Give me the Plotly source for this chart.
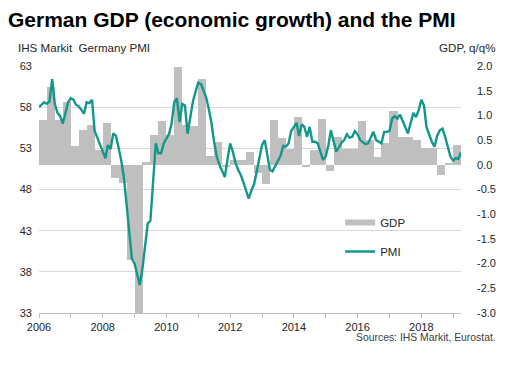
import pandas as pd
import plotly.graph_objects as go

# ---------------- data ----------------
pmi_start = "2006-01-01"   # monthly, Jan 2006 .. Apr 2019
pmi_values = [
    58.0, 58.3, 58.6, 58.4, 58.7, 61.4, 58.4, 57.3, 56.9, 56.0, 57.4, 58.6,   # 2006
    59.1, 58.9, 58.3, 58.1, 57.7, 57.2, 58.6, 58.5, 58.9, 55.1, 54.3, 53.5,   # 2007
    52.5, 51.8, 53.4, 52.9, 54.8, 54.5, 53.1, 51.5, 49.4, 46.2, 42.5, 39.6,   # 2008
    39.0, 37.6, 36.4, 38.4, 41.2, 43.9, 44.2, 48.6, 53.6, 52.4, 52.4, 53.6,   # 2009
    54.2, 54.8, 56.0, 58.6, 59.1, 56.2, 58.4, 58.2, 54.8, 56.5, 58.7, 59.9,   # 2010
    61.0, 60.8, 60.1, 59.2, 57.8, 56.1, 53.8, 52.0, 51.0, 50.3, 49.5, 51.6,   # 2011
    53.6, 52.6, 51.3, 50.4, 49.8, 48.9, 47.9, 46.9, 47.9, 48.6, 50.2, 51.8,   # 2012
    53.4, 54.0, 52.2, 50.4, 50.2, 50.8, 51.4, 52.1, 53.3, 53.2, 53.6, 55.1,   # 2013
    55.6, 56.1, 54.5, 55.9, 55.6, 54.4, 55.6, 53.8, 53.8, 53.6, 52.6, 51.6,   # 2014
    52.0, 53.4, 55.2, 54.0, 52.6, 53.1, 53.7, 54.0, 54.7, 54.3, 54.4, 55.1,   # 2015
    54.7, 54.0, 53.8, 53.5, 53.6, 54.3, 55.0, 54.0, 53.8, 53.6, 55.0, 55.0,   # 2016
    55.1, 56.6, 56.9, 56.6, 57.1, 56.3, 55.6, 54.8, 56.1, 57.3, 56.8, 57.6,   # 2017
    58.9, 58.2, 55.6, 54.6, 53.8, 53.2, 54.5, 55.2, 55.4, 54.4, 53.2, 52.0,   # 2018
    51.5, 51.8, 51.7, 52.5,                                                   # 2019
]

gdp_start = "2006-01-01"   # quarterly, 2006 Q1 .. 2019 Q1 (q/q %)
gdp_values = [
    0.91, 1.58, 0.90, 1.28,     # 2006
    0.38, 0.70, 0.81, 0.29,     # 2007
    0.85, -0.27, -0.36, -1.93,  # 2008
    -4.50, 0.05, 0.60, 0.89,    # 2009
    0.60, 1.97, 0.81, 0.78,     # 2010
    1.73, 0.17, 0.47, -0.05,    # 2011
    0.10, 0.10, 0.25, -0.17,    # 2012
    -0.38, 0.90, 0.54, 0.32,    # 2013
    0.97, -0.05, 0.30, 0.93,    # 2014
    -0.12, 0.56, 0.31, 0.31,    # 2015
    0.89, 0.50, 0.16, 0.45,     # 2016
    1.08, 0.56, 0.56, 0.50,     # 2017
    0.35, 0.35, -0.21, 0.02,    # 2018
    0.40,                       # 2019
]

year_tick_dates = ["2006-01-01", "2008-01-01", "2010-01-01", "2012-01-01",
                   "2014-01-01", "2016-01-01", "2018-01-01"]
year_tick_labels = ["2006", "2008", "2010", "2012", "2014", "2016", "2018"]

pmi_ticks = [33, 38, 43, 48, 53, 58, 63]
gdp_ticks = [-3.0, -2.5, -2.0, -1.5, -1.0, -0.5, 0.0, 0.5, 1.0, 1.5, 2.0]
gdp_tick_labels = ["-3.0", "-2.5", "-2.0", "-1.5", "-1.0", "-0.5",
                   "0.0", "0.5", "1.0", "1.5", "2.0"]

title_text = "German GDP (economic growth) and the PMI"
left_axis_title = "IHS Markit\u00a0 Germany PMI"
right_axis_title = "GDP, q/q%"
source_text = "Sources: IHS Markit, Eurostat."

# ---------------- derived ----------------
pmi_dates = pd.date_range(pmi_start, periods=len(pmi_values), freq="MS")
gdp_dates = pd.date_range(gdp_start, periods=len(gdp_values), freq="QS")

FONT = "Liberation Sans, Arial, sans-serif"
TEXT = "#262626"
GREY_BAR = "#BFBFBF"
TEAL = "#13978A"
GRID = "#D9D9D9"
QUARTER_MS = 92 * 86400000

# page body has an 8px margin, so the figure is offset by (8, 8)
OFF = 8
W, H = 514 - OFF, 365 - OFF
PL, PR, PT, PB = 35, 461, 66, 313          # plot area in page pixels
PW, PH = PR - PL, PB - PT


def px_x(px):
    return (px - PL) / PW


def px_y(py):
    return (PB - py) / PH


fig = go.Figure()

fig.add_trace(go.Bar(
    x=gdp_dates, y=gdp_values, yaxis="y",
    marker=dict(color=GREY_BAR, line=dict(width=0)),
    width=QUARTER_MS, offset=0,
    showlegend=False, name="GDP",
))

# legend swatch for GDP
fig.add_trace(go.Scatter(
    x=[None], y=[None], yaxis="y", mode="lines",
    line=dict(color=GREY_BAR, width=6), name="GDP",
    legendgroup="a",
))

fig.add_trace(go.Scatter(
    x=pmi_dates, y=pmi_values, yaxis="y2", mode="lines",
    line=dict(color=TEAL, width=2.4), name="PMI",
    legendgroup="b",
))

fig.update_layout(
    width=W, height=H,
    margin=dict(l=PL - OFF, r=514 - PR, t=PT - OFF, b=365 - PB),
    paper_bgcolor="white", plot_bgcolor="white",
    font=dict(family=FONT, size=11, color=TEXT),
    bargap=0,
    title=dict(
        text=title_text, x=(8 - OFF) / W, xref="container", xanchor="left",
        y=1 - (20 - OFF) / H, yref="container", yanchor="middle",
        font=dict(family=FONT, size=21, color="black", weight="bold"),
    ),
    xaxis=dict(
        type="date",
        range=["2006-01-01", "2019-04-01"],
        tickmode="array", tickvals=year_tick_dates, ticktext=year_tick_labels,
        ticks="outside", ticklen=4, tickcolor="#BFBFBF",
        minor=dict(dtick="M12", tick0="2006-01-01", ticks="outside",
                   ticklen=4, tickcolor="#BFBFBF"),
        showline=True, linecolor="#BFBFBF", linewidth=1,
        showgrid=False, zeroline=False,
        tickfont=dict(size=11, color=TEXT),
    ),
    yaxis=dict(
        side="right", range=[-3, 2],
        tickmode="array", tickvals=gdp_ticks, ticktext=gdp_tick_labels,
        showgrid=False, zeroline=False, showline=False, ticks="",
        ticklabelstandoff=15,
        tickfont=dict(size=11, color=TEXT),
    ),
    yaxis2=dict(
        overlaying="y", side="left", range=[33, 63],
        tickmode="array", tickvals=pmi_ticks,
        showgrid=True, gridcolor=GRID, gridwidth=1,
        zeroline=False, showline=False, ticks="",
        ticklabelstandoff=6,
        tickfont=dict(size=11, color=TEXT),
    ),
    legend=dict(
        x=px_x(339), xanchor="left",
        y=px_y(208), yanchor="top",
        bgcolor="rgba(0,0,0,0)", borderwidth=0,
        traceorder="grouped", tracegroupgap=10,
        font=dict(size=11.5, color=TEXT),
        itemwidth=30,
    ),
    annotations=[
        dict(text=left_axis_title, xref="paper", yref="paper",
             x=px_x(12), y=px_y(47), xanchor="left", yanchor="middle",
             showarrow=False, font=dict(size=11.6, color=TEXT)),
        dict(text=right_axis_title, xref="paper", yref="paper",
             x=px_x(498), y=px_y(47), xanchor="right", yanchor="middle",
             showarrow=False, font=dict(size=11.6, color=TEXT)),
        dict(text=source_text, xref="paper", yref="paper",
             x=px_x(498), y=px_y(337), xanchor="right", yanchor="middle",
             showarrow=False, font=dict(size=10.4, color="#404040")),
    ],
)

fig.write_html("out.html")
